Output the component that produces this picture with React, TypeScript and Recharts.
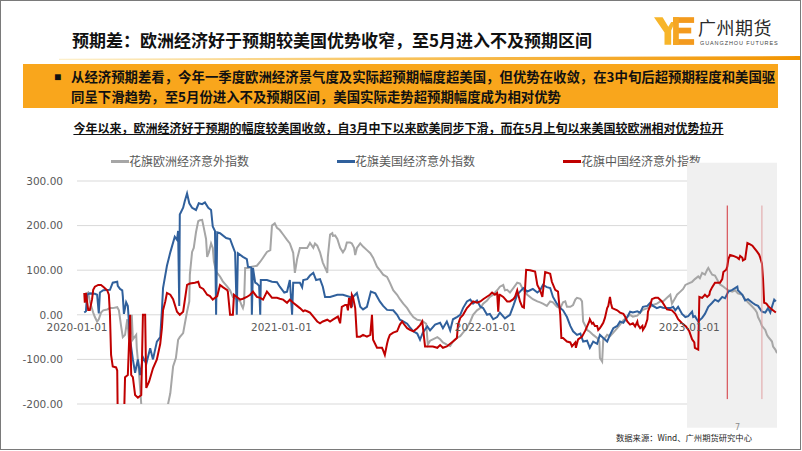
import React from "react";
import {
  LineChart,
  Line,
  XAxis,
  YAxis,
  CartesianGrid,
  ReferenceArea,
  ReferenceLine,
  ReferenceDot,
} from "recharts";

// 花旗欧洲经济意外指数
const EU_SERIES: [string, number][] = [
  ["2020-01-15", 45], ["2020-01-21", 50], ["2020-01-24", 30], ["2020-01-30", 5], ["2020-02-02", -5],
  ["2020-02-06", -15], ["2020-02-09", -10], ["2020-02-13", 5], ["2020-02-17", 10], ["2020-02-24", 12],
  ["2020-02-29", 15], ["2020-03-05", 15], ["2020-03-13", 17], ["2020-03-16", 10], ["2020-03-20", -26],
  ["2020-03-23", -50], ["2020-03-27", -45], ["2020-03-31", -10], ["2020-04-03", -55], ["2020-04-05", -60],
  ["2020-04-08", 0], ["2020-04-10", -55], ["2020-04-16", -45], ["2020-04-17", -75], ["2020-04-21", -130],
  ["2020-04-25", -200], ["2020-04-28", -240], ["2020-06-07", -240], ["2020-06-12", -200], ["2020-06-16", -176],
  ["2020-06-21", -116], ["2020-06-26", -97], ["2020-06-30", -56], ["2020-07-03", -50], ["2020-07-09", -41],
  ["2020-07-12", -20], ["2020-07-16", 7], ["2020-07-20", 30], ["2020-07-21", 90], ["2020-07-25", 141],
  ["2020-07-28", 150], ["2020-08-01", 185], ["2020-08-05", 210], ["2020-08-08", 212], ["2020-08-12", 213],
  ["2020-08-15", 195], ["2020-08-19", 170], ["2020-08-21", 130], ["2020-08-24", 140], ["2020-08-28", 160],
  ["2020-08-31", 150], ["2020-09-02", 120], ["2020-09-06", 97], ["2020-09-13", 86], ["2020-09-18", 75],
  ["2020-09-26", 63], ["2020-10-01", 55], ["2020-10-06", 40], ["2020-10-13", 35], ["2020-10-19", 30],
  ["2020-10-22", 20], ["2020-10-24", 15], ["2020-10-26", 25], ["2020-10-28", 105], ["2020-11-02", 105],
  ["2020-11-09", 108], ["2020-11-18", 110], ["2020-11-24", 119], ["2020-11-29", 128], ["2020-12-06", 141],
  ["2020-12-12", 145], ["2020-12-15", 200], ["2020-12-20", 205], ["2020-12-24", 195], ["2020-12-29", 190],
  ["2021-01-04", 180], ["2021-01-11", 168], ["2021-01-16", 160], ["2021-01-22", 139], ["2021-01-25", 94],
  ["2021-01-29", 125], ["2021-02-03", 150], ["2021-02-09", 150], ["2021-02-16", 150], ["2021-02-21", 161],
  ["2021-02-27", 150], ["2021-03-02", 160], ["2021-03-06", 155], ["2021-03-11", 140], ["2021-03-16", 117],
  ["2021-03-22", 100], ["2021-03-24", 94], ["2021-03-25", 130], ["2021-03-29", 180], ["2021-04-02", 183],
  ["2021-04-03", 177], ["2021-04-07", 178], ["2021-04-11", 170], ["2021-04-16", 150], ["2021-04-21", 140],
  ["2021-04-25", 148], ["2021-04-28", 162], ["2021-05-04", 162], ["2021-05-07", 160], ["2021-05-11", 150],
  ["2021-05-13", 134], ["2021-05-16", 150], ["2021-05-22", 160], ["2021-05-27", 153], ["2021-06-03", 145],
  ["2021-06-09", 138], ["2021-06-14", 128], ["2021-06-21", 108], ["2021-06-26", 100], ["2021-07-02", 90],
  ["2021-07-09", 85], ["2021-07-14", 72], ["2021-07-20", 55], ["2021-07-27", 45], ["2021-08-01", 35],
  ["2021-08-07", 25], ["2021-08-14", 15], ["2021-08-19", 5], ["2021-08-25", -5], ["2021-09-01", -11],
  ["2021-09-06", -12], ["2021-09-11", -15], ["2021-09-17", -20], ["2021-09-20", -67], ["2021-09-24", -58],
  ["2021-09-29", -55], ["2021-10-07", -50], ["2021-10-12", -55], ["2021-10-17", -62], ["2021-10-24", -67],
  ["2021-10-30", -70], ["2021-11-04", -60], ["2021-11-11", -52], ["2021-11-17", -48], ["2021-11-22", -40],
  ["2021-11-29", -30], ["2021-12-05", -15], ["2021-12-10", 0], ["2021-12-17", 10], ["2021-12-23", 15],
  ["2021-12-28", 25], ["2022-01-04", 32], ["2022-01-09", 40], ["2022-01-15", 45], ["2022-01-22", 55],
  ["2022-01-27", 63], ["2022-02-02", 67], ["2022-02-05", 55], ["2022-02-09", 56], ["2022-02-14", 50],
  ["2022-02-20", 60], ["2022-02-27", 72], ["2022-03-04", 70], ["2022-03-10", 55], ["2022-03-17", 45],
  ["2022-03-22", 40], ["2022-03-27", 35], ["2022-04-04", 30], ["2022-04-09", 28], ["2022-04-14", 25],
  ["2022-04-21", 20], ["2022-04-27", 30], ["2022-05-02", 28], ["2022-05-09", 18], ["2022-05-15", 15],
  ["2022-05-20", 28], ["2022-05-24", 30], ["2022-05-27", 18], ["2022-06-02", 18], ["2022-06-07", 22],
  ["2022-06-11", 34], ["2022-06-14", 38], ["2022-06-20", 36], ["2022-06-23", 30], ["2022-06-25", -15],
  ["2022-06-29", -25], ["2022-07-02", -34], ["2022-07-07", -38], ["2022-07-13", -45], ["2022-07-20", -52],
  ["2022-07-24", -60], ["2022-07-25", -97], ["2022-07-29", -105], ["2022-07-31", -55], ["2022-08-03", -52],
  ["2022-08-07", -45], ["2022-08-12", -48], ["2022-08-18", -40], ["2022-08-25", -30], ["2022-08-30", -22],
  ["2022-09-05", -12], ["2022-09-12", -5], ["2022-09-17", 0], ["2022-09-22", -4], ["2022-09-30", -2],
  ["2022-10-05", 5], ["2022-10-10", 11], ["2022-10-18", 15], ["2022-10-23", 18], ["2022-10-28", 22],
  ["2022-11-04", 25], ["2022-11-10", 30], ["2022-11-15", 30], ["2022-11-22", 38], ["2022-11-28", 45],
  ["2022-12-01", 25], ["2022-12-07", 38], ["2022-12-10", 45], ["2022-12-16", 52], ["2022-12-21", 58],
  ["2022-12-25", 67], ["2022-12-30", 70], ["2023-01-06", 74], ["2023-01-11", 80], ["2023-01-17", 86],
  ["2023-01-20", 82], ["2023-01-24", 94], ["2023-01-29", 90], ["2023-02-02", 101], ["2023-02-04", 105],
  ["2023-02-07", 98], ["2023-02-11", 90], ["2023-02-16", 88], ["2023-02-22", 74], ["2023-02-25", 68],
  ["2023-03-01", 65], ["2023-03-06", 60], ["2023-03-12", 55], ["2023-03-19", 52], ["2023-03-24", 55],
  ["2023-03-29", 48], ["2023-04-06", 45], ["2023-04-11", 35], ["2023-04-16", 28], ["2023-04-24", 18],
  ["2023-04-29", 11], ["2023-05-02", 5], ["2023-05-04", -5], ["2023-05-08", -15], ["2023-05-11", -25],
  ["2023-05-17", -34], ["2023-05-20", -45], ["2023-05-22", -49], ["2023-05-29", -60], ["2023-05-31", -71],
  ["2023-06-04", -78], ["2023-06-07", -86],
];

// 花旗美国经济意外指数
const US_SERIES: [string, number][] = [
  ["2020-01-14", 5], ["2020-01-17", 8], ["2020-01-19", 45], ["2020-01-24", 48], ["2020-02-02", 47],
  ["2020-02-06", 45], ["2020-02-09", 3], ["2020-02-11", 50], ["2020-02-17", 55], ["2020-02-29", 56],
  ["2020-03-05", 72], ["2020-03-13", 74], ["2020-03-14", 65], ["2020-03-18", 58], ["2020-03-22", 55],
  ["2020-03-23", 42], ["2020-03-25", 2], ["2020-03-29", 28], ["2020-04-01", 20], ["2020-04-05", -55],
  ["2020-04-10", -100], ["2020-04-14", -130], ["2020-04-19", -100], ["2020-04-23", -135], ["2020-04-28", -95],
  ["2020-05-04", -110], ["2020-05-11", -75], ["2020-05-16", -100], ["2020-05-23", -60], ["2020-05-29", -50],
  ["2020-06-01", 10], ["2020-06-03", 60], ["2020-06-10", 110], ["2020-06-16", 140], ["2020-06-24", 175],
  ["2020-06-28", 168], ["2020-06-30", 188], ["2020-07-02", 20], ["2020-07-03", 225], ["2020-07-09", 240],
  ["2020-07-12", 255], ["2020-07-16", 272], ["2020-07-20", 250], ["2020-07-25", 240], ["2020-08-01", 235],
  ["2020-08-06", 250], ["2020-08-12", 248], ["2020-08-17", 252], ["2020-08-23", 240], ["2020-08-28", 235],
  ["2020-08-31", 198], ["2020-09-04", 188], ["2020-09-06", 0], ["2020-09-08", 185], ["2020-09-13", 183],
  ["2020-09-24", 172], ["2020-10-01", 170], ["2020-10-06", 153], ["2020-10-10", 140], ["2020-10-13", 0],
  ["2020-10-15", 138], ["2020-10-24", 130], ["2020-10-31", 125], ["2020-11-02", 108], ["2020-11-08", 106],
  ["2020-11-09", 0], ["2020-11-11", 105], ["2020-11-15", 72], ["2020-11-18", 70], ["2020-11-22", 65],
  ["2020-11-24", 0], ["2020-11-25", 78], ["2020-12-06", 78], ["2020-12-15", 74], ["2020-12-24", 73],
  ["2020-12-29", 63], ["2021-01-06", 50], ["2021-01-11", 52], ["2021-01-16", 78], ["2021-01-20", 0],
  ["2021-01-22", 72], ["2021-02-03", 72], ["2021-02-07", 62], ["2021-02-09", 78], ["2021-02-16", 80],
  ["2021-02-21", 88], ["2021-02-27", 94], ["2021-03-04", 78], ["2021-03-11", 80], ["2021-03-16", 63],
  ["2021-03-20", 40], ["2021-03-29", 40], ["2021-04-11", 45], ["2021-04-21", 45], ["2021-05-04", 40],
  ["2021-05-07", 18], ["2021-05-09", 40], ["2021-05-16", 49], ["2021-05-22", 18], ["2021-05-27", 12],
  ["2021-06-03", 18], ["2021-06-10", 52], ["2021-06-18", 48], ["2021-06-26", 30], ["2021-07-02", 20],
  ["2021-07-09", 11], ["2021-07-20", 10], ["2021-07-27", 0], ["2021-08-01", -11], ["2021-08-07", -15],
  ["2021-08-14", -20], ["2021-08-19", -28], ["2021-08-25", -37], ["2021-09-01", -42], ["2021-09-06", -56],
  ["2021-09-11", -40], ["2021-09-19", -26], ["2021-09-24", -35], ["2021-10-03", -22], ["2021-10-12", -18],
  ["2021-10-17", -30], ["2021-10-24", -15], ["2021-10-30", -35], ["2021-11-04", -10], ["2021-11-11", -5],
  ["2021-11-17", 0], ["2021-11-22", 15], ["2021-11-29", 30], ["2021-12-05", 34], ["2021-12-10", 25],
  ["2021-12-17", 32], ["2021-12-23", 18], ["2021-12-28", 15], ["2022-01-04", 0], ["2022-01-09", 2],
  ["2022-01-15", -10], ["2022-01-22", -5], ["2022-01-27", 5], ["2022-02-05", -8], ["2022-02-14", 0],
  ["2022-02-20", 20], ["2022-02-27", 45], ["2022-03-04", 52], ["2022-03-10", 60], ["2022-03-17", 52],
  ["2022-03-22", 55], ["2022-03-27", 58], ["2022-04-04", 50], ["2022-04-09", 55], ["2022-04-14", 67],
  ["2022-04-21", 62], ["2022-04-27", 60], ["2022-05-02", 40], ["2022-05-09", 25], ["2022-05-15", 15],
  ["2022-05-20", 10], ["2022-05-27", -5], ["2022-06-02", -25], ["2022-06-07", -37], ["2022-06-14", -45],
  ["2022-06-20", -42], ["2022-06-25", -60], ["2022-07-02", -58], ["2022-07-07", -74], ["2022-07-13", -60],
  ["2022-07-20", -65], ["2022-07-25", -45], ["2022-07-31", -52], ["2022-08-07", -60], ["2022-08-12", -45],
  ["2022-08-18", -30], ["2022-08-25", -25], ["2022-08-30", -15], ["2022-09-05", -18], ["2022-09-12", -5],
  ["2022-09-17", 7], ["2022-09-22", 5], ["2022-09-30", 8], ["2022-10-05", 5], ["2022-10-10", 18],
  ["2022-10-18", 20], ["2022-10-23", 27], ["2022-10-28", 20], ["2022-11-04", 15], ["2022-11-10", 18],
  ["2022-11-15", 16], ["2022-11-19", 15], ["2022-11-28", 15], ["2022-12-03", 18], ["2022-12-07", 10],
  ["2022-12-12", 18], ["2022-12-19", 2], ["2022-12-25", -5], ["2022-12-30", -3], ["2023-01-06", 7],
  ["2023-01-08", -5], ["2023-01-11", -3], ["2023-01-17", -15], ["2023-01-24", -7], ["2023-01-29", 2],
  ["2023-02-04", 18], ["2023-02-11", 27], ["2023-02-16", 34], ["2023-02-22", 30], ["2023-03-01", 40],
  ["2023-03-06", 37], ["2023-03-12", 52], ["2023-03-19", 56], ["2023-03-28", 63], ["2023-03-29", 55],
  ["2023-04-06", 45], ["2023-04-11", 32], ["2023-04-16", 35], ["2023-04-24", 27], ["2023-04-29", 23],
  ["2023-05-04", 20], ["2023-05-11", 7], ["2023-05-17", 5], ["2023-05-22", 15], ["2023-05-26", 5],
  ["2023-05-29", 18], ["2023-06-02", 34], ["2023-06-05", 30],
];

// 花旗中国经济意外指数
const CN_SERIES: [string, number][] = [
  ["2020-01-14", 49], ["2020-01-15", 27], ["2020-01-17", 49], ["2020-01-21", 11], ["2020-01-24", 11],
  ["2020-01-28", 35], ["2020-01-30", 56], ["2020-02-02", 63], ["2020-02-08", 67], ["2020-02-13", 67],
  ["2020-02-18", 62], ["2020-02-24", 55], ["2020-02-27", 45], ["2020-02-29", 0], ["2020-03-02", -90],
  ["2020-03-05", -116], ["2020-03-11", -118], ["2020-03-13", -125], ["2020-03-14", -240], ["2020-03-25", -240],
  ["2020-03-27", -140], ["2020-04-01", -135], ["2020-04-05", 0], ["2020-04-07", -135], ["2020-04-10", -140],
  ["2020-04-14", -180], ["2020-04-19", -186], ["2020-04-25", -180], ["2020-04-28", 0], ["2020-05-02", 0],
  ["2020-05-04", -164], ["2020-05-09", -150], ["2020-05-16", -120], ["2020-05-23", -100], ["2020-05-29", -65],
  ["2020-06-01", -30], ["2020-06-03", 10], ["2020-06-07", 30], ["2020-06-10", 49], ["2020-06-16", 45],
  ["2020-06-21", 35], ["2020-06-28", 7], ["2020-07-03", 0], ["2020-07-09", 7], ["2020-07-16", 67],
  ["2020-07-21", 70], ["2020-07-30", 72], ["2020-08-05", 74], ["2020-08-08", 62], ["2020-08-14", 58],
  ["2020-08-21", 45], ["2020-08-26", 42], ["2020-08-31", 34], ["2020-09-08", 42], ["2020-09-13", 67],
  ["2020-09-18", 62], ["2020-09-26", 55], ["2020-09-27", 52], ["2020-10-01", 0], ["2020-10-06", 0],
  ["2020-10-08", 45], ["2020-10-13", 40], ["2020-10-19", 34], ["2020-10-24", 36], ["2020-10-31", 40],
  ["2020-11-06", 45], ["2020-11-11", 52], ["2020-11-18", 40], ["2020-11-24", 38], ["2020-11-29", 34],
  ["2020-12-06", 52], ["2020-12-12", 43], ["2020-12-15", 38], ["2020-12-24", 38], ["2020-12-29", 36],
  ["2021-01-04", 34], ["2021-01-11", 27], ["2021-01-16", 34], ["2021-01-22", 27], ["2021-01-29", 20],
  ["2021-02-03", 15], ["2021-02-09", 8], ["2021-02-12", 10], ["2021-02-16", 8], ["2021-02-21", 5],
  ["2021-02-27", -4], ["2021-03-06", -15], ["2021-03-11", -19], ["2021-03-16", -15], ["2021-03-24", -11],
  ["2021-03-29", -15], ["2021-04-03", -11], ["2021-04-12", -4], ["2021-04-16", -19], ["2021-04-19", 18],
  ["2021-04-25", 22], ["2021-04-28", 22], ["2021-04-30", 10], ["2021-05-02", 38], ["2021-05-06", 15],
  ["2021-05-07", 45], ["2021-05-09", 40], ["2021-05-13", 15], ["2021-05-16", -49], ["2021-05-22", -49],
  ["2021-05-27", -45], ["2021-06-03", -49], ["2021-06-09", -45], ["2021-06-12", 0], ["2021-06-14", -56],
  ["2021-06-21", -74], ["2021-06-30", -74], ["2021-07-02", -80], ["2021-07-05", -90], ["2021-07-09", -65],
  ["2021-07-11", -55], ["2021-07-14", -45], ["2021-07-20", -40], ["2021-07-27", -37], ["2021-08-01", -22],
  ["2021-08-05", -15], ["2021-08-07", -19], ["2021-08-14", -30], ["2021-08-19", -34], ["2021-08-25", -37],
  ["2021-09-01", -30], ["2021-09-06", -23], ["2021-09-10", -15], ["2021-09-15", -71], ["2021-09-24", -71],
  ["2021-09-29", -71], ["2021-10-07", -74], ["2021-10-12", -68], ["2021-10-17", -74], ["2021-10-24", -71],
  ["2021-10-30", -65], ["2021-11-04", -60], ["2021-11-11", -52], ["2021-11-13", -22], ["2021-11-17", -7],
  ["2021-11-22", 0], ["2021-11-29", 15], ["2021-12-10", 30], ["2021-12-17", 27], ["2021-12-23", 30],
  ["2021-12-28", 35], ["2022-01-09", 45], ["2022-01-13", 50], ["2022-01-18", 45], ["2022-01-22", 49],
  ["2022-01-24", 7], ["2022-01-26", 45], ["2022-01-27", 45], ["2022-02-02", 40], ["2022-02-09", 30],
  ["2022-02-14", 30], ["2022-02-20", 35], ["2022-02-23", 40], ["2022-02-27", 55], ["2022-03-04", 30],
  ["2022-03-08", 18], ["2022-03-11", 16], ["2022-03-15", 101], ["2022-03-22", 100], ["2022-03-31", 97],
  ["2022-04-04", 67], ["2022-04-09", 55], ["2022-04-13", 40], ["2022-04-18", 96], ["2022-04-23", 94],
  ["2022-04-27", 92], ["2022-04-30", 74], ["2022-05-06", 56], ["2022-05-11", 52], ["2022-05-15", 0],
  ["2022-05-17", -52], ["2022-05-20", -52], ["2022-05-27", -60], ["2022-06-02", -62], ["2022-06-05", -71],
  ["2022-06-11", -62], ["2022-06-12", -74], ["2022-06-16", -55], ["2022-06-23", -49], ["2022-06-29", -35],
  ["2022-07-06", -15], ["2022-07-07", -10], ["2022-07-11", -20], ["2022-07-13", -18], ["2022-07-16", -25],
  ["2022-07-20", -25], ["2022-07-22", -34], ["2022-07-25", -30], ["2022-07-29", -22], ["2022-07-31", -18],
  ["2022-08-03", -7], ["2022-08-07", 15], ["2022-08-09", 20], ["2022-08-12", 40], ["2022-08-14", 25],
  ["2022-08-16", 15], ["2022-08-25", 10], ["2022-08-30", 5], ["2022-09-05", 2], ["2022-09-08", -4],
  ["2022-09-12", -15], ["2022-09-17", -22], ["2022-09-22", -19], ["2022-09-26", -26], ["2022-09-30", -15],
  ["2022-10-01", -22], ["2022-10-05", -30], ["2022-10-09", -25], ["2022-10-10", -34], ["2022-10-14", -26],
  ["2022-10-18", -10], ["2022-10-19", 7], ["2022-10-23", 20], ["2022-10-26", 35], ["2022-11-01", 38],
  ["2022-11-06", 38], ["2022-11-13", 30], ["2022-11-22", 12], ["2022-12-01", 10], ["2022-12-07", 2],
  ["2022-12-12", -10], ["2022-12-19", -19], ["2022-12-26", -26], ["2023-01-01", -37], ["2023-01-06", -55],
  ["2023-01-10", -62], ["2023-01-11", -74], ["2023-01-17", -78], ["2023-01-19", 40], ["2023-01-24", 38],
  ["2023-01-29", 45], ["2023-02-02", 40], ["2023-02-06", 45], ["2023-02-07", 52], ["2023-02-11", 62],
  ["2023-02-16", 72], ["2023-02-25", 72], ["2023-03-01", 80], ["2023-03-03", 96], ["2023-03-08", 101],
  ["2023-03-10", 108], ["2023-03-12", 125], ["2023-03-15", 134], ["2023-03-21", 132], ["2023-03-28", 128],
  ["2023-03-31", 125], ["2023-04-02", 132], ["2023-04-06", 128], ["2023-04-07", 122], ["2023-04-11", 125],
  ["2023-04-15", 161], ["2023-04-20", 158], ["2023-04-24", 155], ["2023-04-27", 150], ["2023-05-02", 142],
  ["2023-05-06", 135], ["2023-05-08", 128], ["2023-05-11", 115], ["2023-05-13", 80], ["2023-05-15", 27],
  ["2023-05-19", 25], ["2023-05-22", 20], ["2023-05-26", 15], ["2023-05-29", 12], ["2023-06-02", 8],
  ["2023-06-05", 5],
];

const SERIES_NAMES = ["花旗欧洲经济意外指数", "花旗美国经济意外指数", "花旗中国经济意外指数"];
const SERIES_COLORS = ["#a6a6a6", "#30609c", "#c00000"];
const X_TICKS = ["2020-01-01", "2021-01-01", "2022-01-01", "2023-01-01"];
const Y_TICKS = [-200, -100, 0, 100, 200, 300];
const X_START = "2020-01-01";
const X_END = "2023-06-07";
// 灰色高亮区间 + 两条标注竖线（3月中下、5月上旬）
const HIGHLIGHT_FROM = "2022-12-28";
const HIGHLIGHT_RANGE = [-253, 341];
const MARKER_DATES = ["2023-03-10", "2023-05-11"];
const MARKER_COLORS = ["#d2333a", "#e0a0a3"];
const MARKER_RANGE = [-189, 245];

const CJK = "'Noto Sans CJK SC', 'Noto Sans', sans-serif";
const AXIS_FONT = "'DejaVu Sans', Verdana, sans-serif";

const ts = (d: string) => Date.parse(d + "T00:00:00Z");
const toRows = (s: [string, number][]) => s.map(([d, v]) => ({ t: ts(d), v }));

function Legend() {
  return (
    <div
      style={{
        position: "absolute",
        left: 110,
        top: 151,
        display: "flex",
        gap: 88,
        fontFamily: CJK,
        fontSize: 12,
        color: "#595959",
        lineHeight: "18px",
        whiteSpace: "nowrap",
      }}
    >
      {SERIES_NAMES.map((name, i) => (
        <div key={name} style={{ display: "flex", alignItems: "center" }}>
          <span style={{ width: 18, height: 3, background: SERIES_COLORS[i], display: "inline-block" }} />
          <span>{name}</span>
        </div>
      ))}
    </div>
  );
}

function Logo() {
  return (
    <>
      <svg width={42} height={31} viewBox="0 0 44 32" style={{ position: "absolute", left: 653, top: 15 }}>
        <polygon points="0,1 9,1 15,11 18,6 22,6 18,15 18,30 11,30 11,17" fill="#f7b52a" />
        <rect x={20} y={1} width={22} height={6} fill="#f39a1e" />
        <rect x={22} y={12} width={17} height={6} fill="#f39a1e" />
        <rect x={20} y={24} width={22} height={6} fill="#f39a1e" />
        <rect x={20} y={1} width={6} height={29} fill="#f5a623" />
      </svg>
      <div
        style={{
          position: "absolute",
          left: 697,
          top: 15,
          fontFamily: CJK,
          fontSize: 18,
          letterSpacing: 0.5,
          color: "#2b2b2b",
          lineHeight: "22px",
          whiteSpace: "nowrap",
        }}
      >
        广州期货
      </div>
      <div
        style={{
          position: "absolute",
          left: 699,
          top: 39,
          fontFamily: "'Liberation Sans', sans-serif",
          fontSize: 5.5,
          letterSpacing: 0.9,
          color: "#444",
          whiteSpace: "nowrap",
        }}
      >
        GUANGZHOU FUTURES
      </div>
    </>
  );
}

export default function App() {
  const euData = toRows(EU_SERIES);
  const usData = toRows(US_SERIES);
  const cnData = toRows(CN_SERIES);
  const seriesData = [euData, usData, cnData];

  return (
    <div
      style={{
        position: "absolute",
        left: 0,
        top: 0,
        width: 801,
        height: 450,
        background: "#fff",
        border: "1px solid #7a7a7a",
        boxSizing: "border-box",
        overflow: "hidden",
      }}
    >
      {/* title */}
      <div
        style={{
          position: "absolute",
          left: 71,
          top: 28,
          fontFamily: CJK,
          fontWeight: 700,
          fontSize: 17,
          lineHeight: "22px",
          color: "#111",
          whiteSpace: "nowrap",
        }}
      >
        预期差：欧洲经济好于预期较美国优势收窄，至5月进入不及预期区间
      </div>
      <Logo />
      <div
        style={{
          position: "absolute",
          left: 58,
          top: 55,
          width: 745,
          height: 4,
          background: "linear-gradient(to right, #fdf0cc, #f8c35c 45%, #f29400)",
          clipPath: "polygon(0 70%, 100% 0, 100% 100%, 0 100%)",
        }}
      />

      {/* summary box */}
      <div
        style={{
          position: "absolute",
          left: 22,
          top: 63,
          width: 755,
          height: 44,
          background: "#f9a61c",
        }}
      />
      <div style={{ position: "absolute", left: 53, top: 67, fontSize: 12, lineHeight: "18px", color: "#111" }}>■</div>
      <div
        style={{
          position: "absolute",
          left: 70,
          top: 65,
          fontFamily: CJK,
          fontWeight: 700,
          fontSize: 13.4,
          lineHeight: "20px",
          color: "#111",
          whiteSpace: "nowrap",
        }}
      >
        <div>从经济预期差看，今年一季度欧洲经济景气度及实际超预期幅度超美国，但优势在收敛，在3中旬后超预期程度和美国驱</div>
        <div>同呈下滑趋势，至5月份进入不及预期区间，美国实际走势超预期幅度成为相对优势</div>
      </div>

      {/* subtitle */}
      <div
        style={{
          position: "absolute",
          left: 0,
          width: 795,
          top: 118,
          textAlign: "center",
          fontFamily: CJK,
          fontWeight: 700,
          fontSize: 12,
          lineHeight: "18px",
          color: "#111",
          textDecoration: "underline",
          whiteSpace: "nowrap",
        }}
      >
        今年以来，欧洲经济好于预期的幅度较美国收敛，自3月中下以来欧美同步下滑，而在5月上旬以来美国较欧洲相对优势拉开
      </div>

      <Legend />

      <div style={{ position: "absolute", left: -1, top: -1 }}>
        <LineChart width={802} height={451} margin={{ top: 181, right: 25, bottom: 47, left: 17 }}>
          <ReferenceArea
            x1={ts(HIGHLIGHT_FROM)}
            x2={ts(X_END)}
            y1={HIGHLIGHT_RANGE[0]}
            y2={HIGHLIGHT_RANGE[1]}
            fill="#f0f0f0"
            fillOpacity={1}
            stroke="none"
            ifOverflow="visible"
          />
          <CartesianGrid vertical={false} stroke="#d9d9d9" />
          <XAxis type="number" dataKey="t" domain={[ts(X_START), ts(X_END)]} allowDataOverflow hide />
          <YAxis
            type="number"
            domain={[-200, 300]}
            ticks={Y_TICKS}
            interval={0}
            allowDataOverflow
            axisLine={false}
            tickLine={false}
            width={60}
            tickSize={6}
            tickMargin={8}
            tickFormatter={(v: number) => v.toFixed(2)}
            tick={{ fill: "#595959", fontSize: 10.5, fontFamily: AXIS_FONT }}
          />
          {X_TICKS.map((d) => (
            <ReferenceDot
              key={d}
              x={ts(d)}
              y={0}
              r={0}
              fill="none"
              stroke="none"
              label={{ value: d, position: "bottom", offset: 9, fill: "#595959", fontSize: 10.5, fontFamily: AXIS_FONT }}
            />
          ))}
          {seriesData.map((data, i) => (
            <Line
              key={SERIES_NAMES[i]}
              data={data}
              dataKey="v"
              name={SERIES_NAMES[i]}
              type="linear"
              stroke={SERIES_COLORS[i]}
              strokeWidth={2}
              dot={false}
              activeDot={false}
              isAnimationActive={false}
            />
          ))}
          {MARKER_DATES.map((d, i) => (
            <ReferenceLine
              key={d}
              segment={[
                { x: ts(d), y: MARKER_RANGE[0] },
                { x: ts(d), y: MARKER_RANGE[1] },
              ]}
              stroke={MARKER_COLORS[i]}
              strokeWidth={1}
            />
          ))}
        </LineChart>
      </div>

      <div
        style={{
          position: "absolute",
          left: 734,
          top: 422,
          fontFamily: AXIS_FONT,
          fontSize: 8,
          color: "#8c8c8c",
        }}
      >
        7
      </div>
      <div
        style={{
          position: "absolute",
          left: 615,
          top: 430,
          fontFamily: CJK,
          fontSize: 8.3,
          lineHeight: "12px",
          color: "#262626",
          whiteSpace: "nowrap",
        }}
      >
        数据来源：Wind、广州期货研究中心
      </div>
    </div>
  );
}
